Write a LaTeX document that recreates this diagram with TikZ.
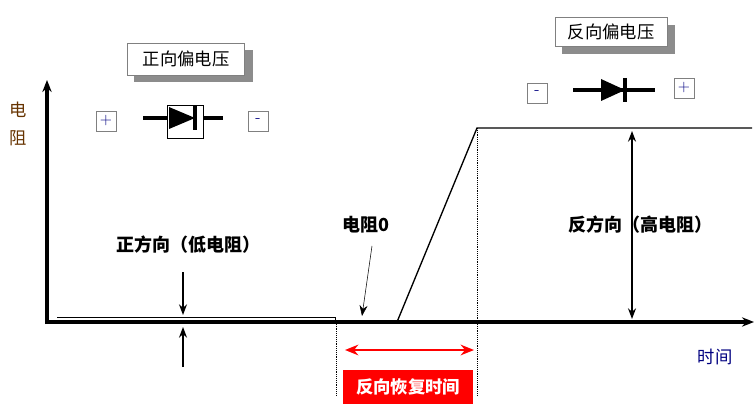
\documentclass[tikz,border=0pt]{standalone}
\usepackage{fontspec}
\newfontfamily\cjk{Noto Sans CJK SC}
\usetikzlibrary{arrows.meta}
\usetikzlibrary{positioning}
\definecolor{custom-red}{RGB}{255, 0, 0}
\definecolor{custom-brown}{RGB}{102, 51, 0}
\definecolor{custom-navy}{RGB}{0, 0, 128}
\tikzset{
  tag/.style={draw=gray, fill=white, inner sep=3pt, font=\cjk\fontsize{13}{13}\selectfont},
  shadow/.style={fill=gray!90},
  sign/.style={draw=gray, minimum size=15pt, inner sep=0pt, font=\fontsize{12}{12}\selectfont, text=custom-navy},
  label/.style={font=\cjk\bfseries\fontsize{13.5}{13.5}\selectfont},
  axis/.style={line width=2.6pt, -{Stealth[length=9pt,width=7pt]}},
}
\begin{document}
\begin{tikzpicture}[x=0.75pt, y=-0.75pt]
\useasboundingbox (0,0) rectangle (755,409);
% axes
\coordinate (o) at (47,322);
\coordinate (ytop) at (47,80);
\coordinate (xend) at (754,322);
\draw[axis] (47,324) -- (ytop);
\draw[axis] (46,322) -- (xend);
\node[font=\cjk\fontsize{13}{13}\selectfont, text=custom-brown] (ylab1) at (18,110) {电};
\node[font=\cjk\fontsize{13}{13}\selectfont, text=custom-brown] (ylab2) at (18,138) {阻};
\node[font=\cjk\fontsize{13}{13}\selectfont, text=custom-navy] (xlab) at (715,357) {时间};
% resistance curve
\draw[thin] (57,317) -- (335,317) -- (335,322);
\draw[line width=1pt] (397,322) -- (477,128) -- (752,128);
\draw[densely dotted] (336,322) -- (336,395);
\draw[densely dotted] (477,128) -- (477,395);
% recovery time
\coordinate (ra) at (345,350);
\coordinate (rb) at (474,350);
\draw[custom-red, line width=1.5pt, {Stealth[length=10pt,width=8pt]}-{Stealth[length=10pt,width=8pt]}] (ra) -- (rb);
\node[fill=custom-red, text=white, font=\cjk\bfseries\fontsize{13}{13}\selectfont, minimum width=97.5pt, minimum height=26pt] (trr) at (408,387) {反向恢复时间};
% zero resistance
\node[label] (zero) at (366,225) {电阻0};
\coordinate (zp) at (362,316);
\draw[thin, -{Stealth[length=8pt,width=6pt]}] (372,246) -- (zp);
% forward
\node[label] (fwd) at (188,245) {正方向（低电阻）};
\coordinate (fa) at (183,315);
\coordinate (fb) at (183,327);
\draw[line width=1pt, -{Stealth[length=8pt,width=6pt]}] (183,272) -- (fa);
\draw[line width=1pt, -{Stealth[length=8pt,width=6pt]}] (183,367) -- (fb);
% reverse
\node[label] (rev) at (640,225) {反方向（高电阻）};
\coordinate (ha) at (632,131);
\coordinate (hb) at (632,319);
\draw[line width=1pt, {Stealth[length=8pt,width=6pt]}-{Stealth[length=8pt,width=6pt]}] (ha) -- (hb);
% forward bias
\fill[shadow] (134,50) rectangle (253,82);
\node[tag, minimum width=88pt, minimum height=24pt] (fbias) at (186,59) {正向偏电压};
\node[sign] (fplus) at (106,121) {+};
\node[sign] (fminus) at (258,121) {-};
\draw[line width=3pt] (143,118) -- (223,118);
\draw[fill=white] (167,105) rectangle (203,138);
\fill (169,107) -- (195,118) -- (169,129) -- cycle;
\draw[line width=2.5pt] (195,106) -- (195,130);
% reverse bias
\fill[shadow] (562,25) rectangle (675,54);
\node[tag, minimum width=84pt, minimum height=22pt] (rbias) at (611,32) {反向偏电压};
\node[sign] (rminus) at (537,93) {-};
\node[sign] (rplus) at (684,88) {+};
\draw[line width=3pt] (573,90) -- (655,90);
\fill (601,79) -- (625,90) -- (601,101) -- cycle;
\draw[line width=2.5pt] (625,78) -- (625,102);
\end{tikzpicture}
\end{document}
